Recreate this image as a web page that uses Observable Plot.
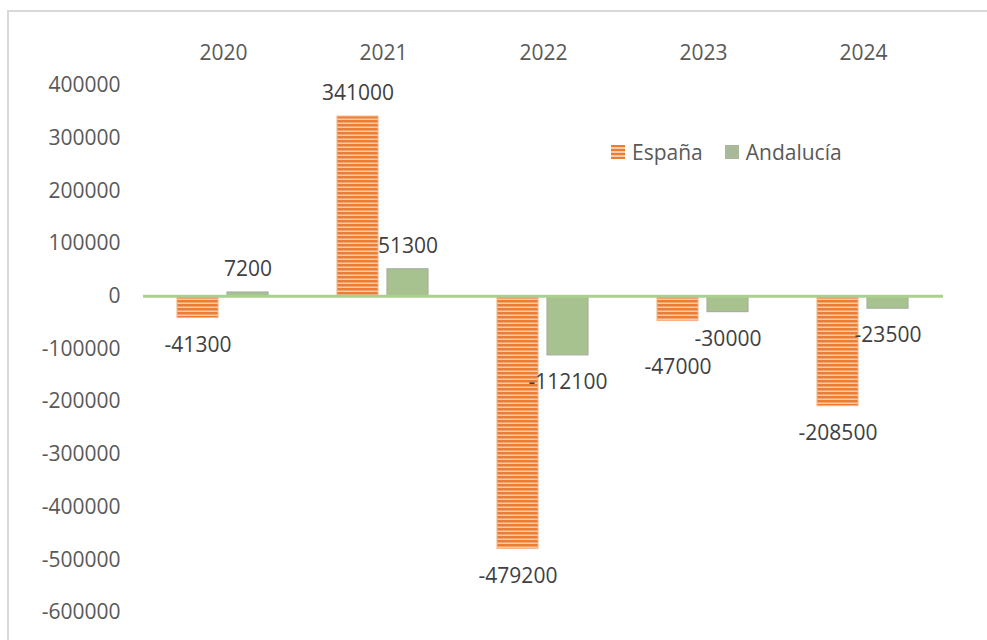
<!DOCTYPE html>
<html>
<head>
<meta charset="utf-8">
<script src="https://cdn.jsdelivr.net/npm/d3@7"></script>
<script src="https://cdn.jsdelivr.net/npm/@observablehq/plot@0.6"></script>
<style>
  html, body { margin: 0; padding: 0; background: #fff; }
  #wrap { position: relative; width: 987px; height: 640px; overflow: hidden; font-family: "Open Sans", sans-serif; }
  #frame { position: absolute; left: 7px; top: 10px; width: 990px; height: 640px; border-left: 2px solid #d9d9d9; border-top: 2px solid #d9d9d9; box-sizing: border-box; pointer-events: none; }
  #legend { position: absolute; left: 611px; top: 138px; display: flex; align-items: center; font-size: 21px; color: #595959; }
  #legend .item { display: flex; align-items: center; margin-right: 22px; }
  #legend .sw { width: 14px; height: 14px; margin-right: 7px; }
</style>
</head>
<body>
<div id="wrap">
  <div id="chart"></div>
  <div id="frame"></div>
  <div id="legend"></div>
</div>
<script>
const years = ["2020", "2021", "2022", "2023", "2024"];
const seriesNames = ["España", "Andalucía"];
const espana = [-41300, 341000, -479200, -47000, -208500];
const andalucia = [7200, 51300, -112100, -30000, -23500];
const yTicks = [400000, 300000, 200000, 100000, 0, -100000, -200000, -300000, -400000, -500000, -600000];

const data = years.flatMap((y, i) => [
  {year: y, series: seriesNames[0], value: espana[i], other: andalucia[i]},
  {year: y, series: seriesNames[1], value: andalucia[i], other: espana[i]}
]);
const esp = data.filter(d => d.series === seriesNames[0]);
const and = data.filter(d => d.series === seriesNames[1]);

// label collision rule: a negative España label that would sit level with the
// neighbouring Andalucía label gets pushed further down
const collides = d => d.series === seriesNames[0] && d.value < 0 && d.other < 0 && Math.abs(d.value - d.other) < 40000;
const posLabels = data.filter(d => d.value >= 0);
const negLabels = data.filter(d => d.value < 0 && !collides(d));
const negPushed = data.filter(d => d.value < 0 && collides(d));

const chart = Plot.plot({
  width: 987,
  height: 640,
  marginTop: 85,
  marginBottom: 28,
  marginLeft: 143,
  marginRight: 44,
  style: {fontFamily: "'Open Sans', sans-serif", fontSize: "21px", color: "#595959", background: "transparent"},
  fx: {domain: years, padding: 0, axis: "top", tickSize: 0, tickPadding: 26, label: null},
  x: {domain: seriesNames, paddingInner: 0.178, paddingOuter: 0.673, axis: null},
  y: {domain: [-600000, 400000], ticks: yTicks, tickFormat: d => String(d), tickSize: 0, tickPadding: 23, label: null},
  marks: [
    Plot.barY(esp, {fx: "year", x: "series", y: "value", fill: "url(#stripes)", stroke: "#f4b183", strokeWidth: 1}),
    Plot.barY(and, {fx: "year", x: "series", y: "value", fill: "#a8c28f", stroke: "#a7b0a0", strokeWidth: 1.2}),
    Plot.ruleY([0], {stroke: "#a9d18e", strokeWidth: 3}),
    Plot.text(posLabels, {fx: "year", x: "series", y: "value", text: d => String(d.value), dy: -23, fill: "#404040", fontSize: 21}),
    Plot.text(negLabels, {fx: "year", x: "series", y: "value", text: d => String(d.value), dy: 27, fill: "#404040", fontSize: 21}),
    Plot.text(negPushed, {fx: "year", x: "series", y: "value", text: d => String(d.value), dy: 46, fill: "#404040", fontSize: 21})
  ]
});

// stripe pattern for España
const ns = "http://www.w3.org/2000/svg";
const defs = document.createElementNS(ns, "defs");
defs.innerHTML = `<pattern id="stripes" patternUnits="userSpaceOnUse" width="8" height="4">
  <rect width="8" height="4" fill="#f8cbad"></rect>
  <rect width="8" height="2.5" fill="#ed7d31"></rect>
</pattern>`;
chart.insertBefore(defs, chart.firstChild);
document.getElementById("chart").appendChild(chart);

// legend
const legend = document.getElementById("legend");
const swatchStyles = [
  "background: repeating-linear-gradient(to bottom, #ed7d31 0px, #ed7d31 2.5px, #f8cbad 2.5px, #f8cbad 4px);",
  "background: #a9b898;"
];
seriesNames.forEach((name, i) => {
  const item = document.createElement("div");
  item.className = "item";
  item.innerHTML = `<span class="sw" style="${swatchStyles[i]}"></span><span>${name}</span>`;
  legend.appendChild(item);
});
</script>
</body>
</html>
